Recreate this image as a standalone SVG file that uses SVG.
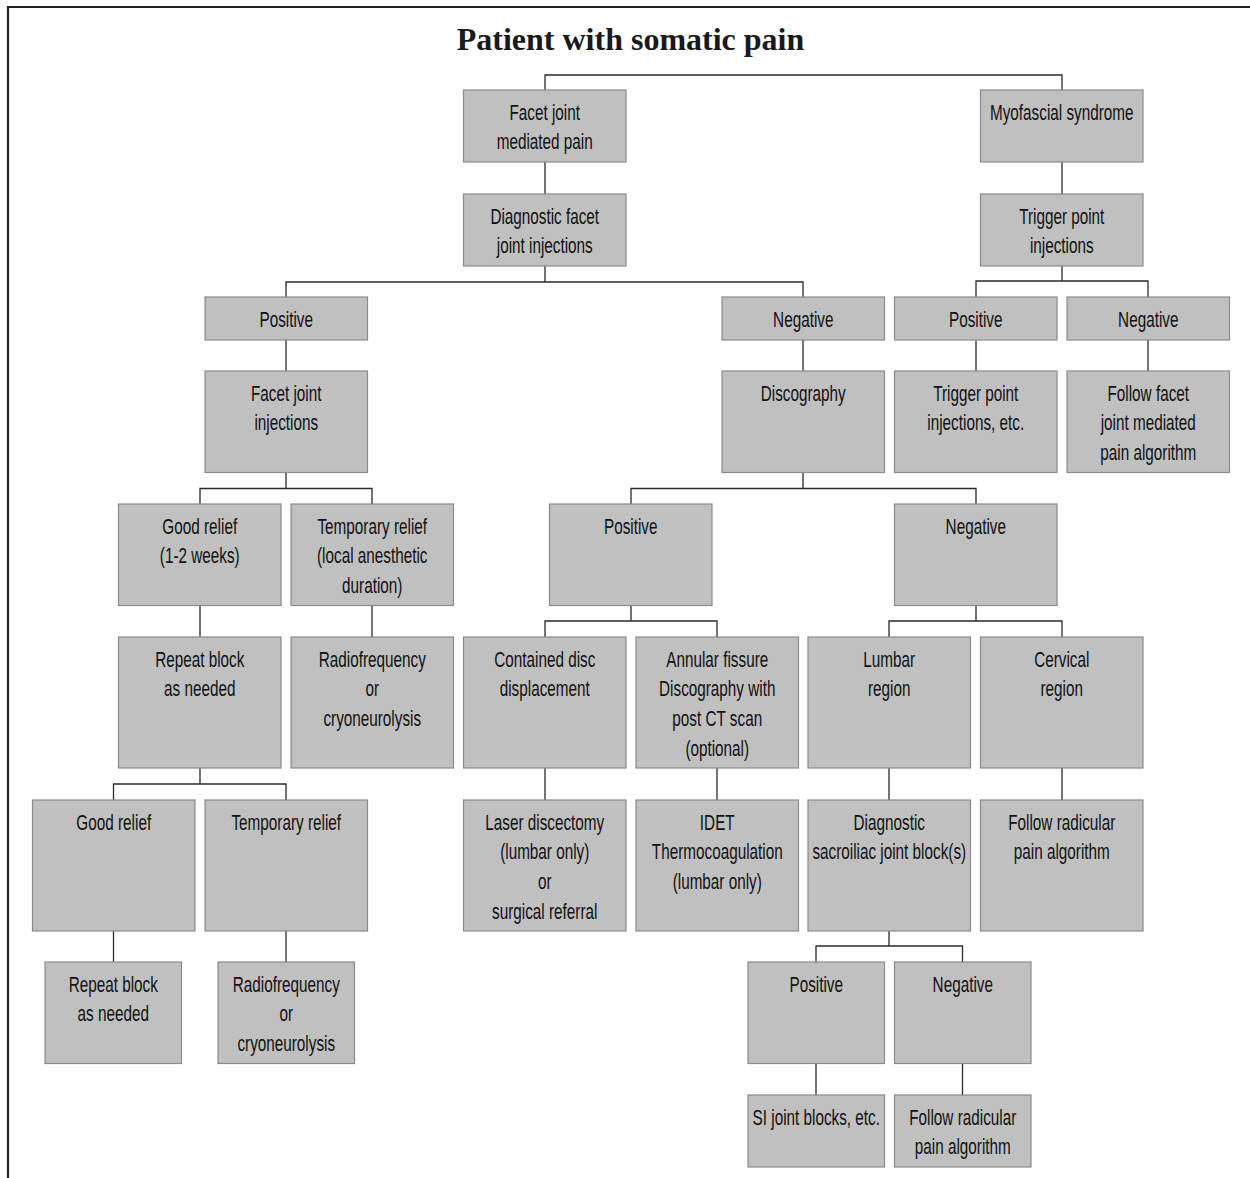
<svg xmlns="http://www.w3.org/2000/svg" width="1250" height="1178" viewBox="0 0 1250 1178">
<style>
.frame{fill:none;stroke:#222;stroke-width:2.2}
.box{fill:#c0c0c0;stroke:#8a8a8a;stroke-width:1.2}
.c{fill:none;stroke:#2a2a2a;stroke-width:1.3}
.t{font-family:"Liberation Sans",Arial,sans-serif;font-size:22.5px;fill:#111;text-anchor:middle}
.title{font-family:"Liberation Serif","Times New Roman",serif;font-size:32px;font-weight:bold;fill:#1a1a1a;text-anchor:middle}
</style>
<rect width="1250" height="1178" fill="#fff"/>
<path class="frame" d="M8,1178 V7 H1250"/>
<text class="title" x="630.5" y="50">Patient with somatic pain</text>

<g id="connectors">
<path class="c" d="M545,90 V75 H1062 V90"/>
<path class="c" d="M545,162 V194 M1062,162 V194"/>
<path class="c" d="M545,266 V282 M286,297 V282 H803 V297"/>
<path class="c" d="M1062,266 V281 M976,297 V281 H1148 V297"/>
<path class="c" d="M286,340 V371 M803,340 V371 M976,340 V371 M1148,340 V371"/>
<path class="c" d="M286,472.5 V488.5 M200,504 V488.5 H372 V504"/>
<path class="c" d="M803,472.5 V488.5 M631,504 V488.5 H976 V504"/>
<path class="c" d="M200,605.5 V637 M372,605.5 V637"/>
<path class="c" d="M631,605.5 V621 M545,637 V621 H717 V637"/>
<path class="c" d="M976,605.5 V621 M889,637 V621 H1062 V637"/>
<path class="c" d="M200,768 V784 M113.5,800 V784 H286 V800"/>
<path class="c" d="M545,768 V800 M717,768 V800 M889,768 V800 M1062,768 V800"/>
<path class="c" d="M113.5,931 V962 M286,931 V962"/>
<path class="c" d="M889,931 V946 M816,962 V946 H962.5 V962"/>
<path class="c" d="M816,1063.5 V1095 M962.5,1063.5 V1095"/>
</g>

<g id="n-facet"><rect class="box" x="463.5" y="90" width="162.5" height="72"/>
<text class="t" transform="translate(544.75 119.5) scale(0.68 1)"><tspan x="0" y="0">Facet joint</tspan><tspan x="0" y="30">mediated pain</tspan></text></g>
<g id="n-myofascial"><rect class="box" x="980.5" y="90" width="162.5" height="72"/>
<text class="t" transform="translate(1061.75 119.5) scale(0.68 1)"><tspan x="0" y="0">Myofascial syndrome</tspan></text></g>

<g id="n-diagfacet"><rect class="box" x="463.5" y="194" width="162.5" height="72"/>
<text class="t" transform="translate(544.75 223.5) scale(0.68 1)"><tspan x="0" y="0">Diagnostic facet</tspan><tspan x="0" y="30">joint injections</tspan></text></g>
<g id="n-trigger"><rect class="box" x="980.5" y="194" width="162.5" height="72"/>
<text class="t" transform="translate(1061.75 223.5) scale(0.68 1)"><tspan x="0" y="0">Trigger point</tspan><tspan x="0" y="30">injections</tspan></text></g>

<g id="n-pos1"><rect class="box" x="205" y="297" width="162.5" height="43"/>
<text class="t" transform="translate(286.25 326.5) scale(0.68 1)"><tspan x="0" y="0">Positive</tspan></text></g>
<g id="n-neg1"><rect class="box" x="722" y="297" width="162.5" height="43"/>
<text class="t" transform="translate(803.25 326.5) scale(0.68 1)"><tspan x="0" y="0">Negative</tspan></text></g>
<g id="n-pos2"><rect class="box" x="894.5" y="297" width="162.5" height="43"/>
<text class="t" transform="translate(975.75 326.5) scale(0.68 1)"><tspan x="0" y="0">Positive</tspan></text></g>
<g id="n-neg2"><rect class="box" x="1067" y="297" width="162.5" height="43"/>
<text class="t" transform="translate(1148.25 326.5) scale(0.68 1)"><tspan x="0" y="0">Negative</tspan></text></g>

<g id="n-facetinj"><rect class="box" x="205" y="371" width="162.5" height="101.5"/>
<text class="t" transform="translate(286.25 400.5) scale(0.68 1)"><tspan x="0" y="0">Facet joint</tspan><tspan x="0" y="30">injections</tspan></text></g>
<g id="n-discography"><rect class="box" x="722" y="371" width="162.5" height="101.5"/>
<text class="t" transform="translate(803.25 400.5) scale(0.68 1)"><tspan x="0" y="0">Discography</tspan></text></g>
<g id="n-triggeretc"><rect class="box" x="894.5" y="371" width="162.5" height="101.5"/>
<text class="t" transform="translate(975.75 400.5) scale(0.68 1)"><tspan x="0" y="0">Trigger point</tspan><tspan x="0" y="30">injections, etc.</tspan></text></g>
<g id="n-followfacet"><rect class="box" x="1067" y="371" width="162.5" height="101.5"/>
<text class="t" transform="translate(1148.25 400.5) scale(0.68 1)"><tspan x="0" y="0">Follow facet</tspan><tspan x="0" y="30">joint mediated</tspan><tspan x="0" y="60">pain algorithm</tspan></text></g>

<g id="n-goodrelief1"><rect class="box" x="118.5" y="504" width="162.5" height="101.5"/>
<text class="t" transform="translate(199.75 533.5) scale(0.68 1)"><tspan x="0" y="0">Good relief</tspan><tspan x="0" y="30">(1-2 weeks)</tspan></text></g>
<g id="n-temprelief1"><rect class="box" x="291" y="504" width="162.5" height="101.5"/>
<text class="t" transform="translate(372.25 533.5) scale(0.68 1)"><tspan x="0" y="0">Temporary relief</tspan><tspan x="0" y="30">(local anesthetic</tspan><tspan x="0" y="60">duration)</tspan></text></g>
<g id="n-pos3"><rect class="box" x="549.5" y="504" width="162.5" height="101.5"/>
<text class="t" transform="translate(630.75 533.5) scale(0.68 1)"><tspan x="0" y="0">Positive</tspan></text></g>
<g id="n-neg3"><rect class="box" x="894.5" y="504" width="162.5" height="101.5"/>
<text class="t" transform="translate(975.75 533.5) scale(0.68 1)"><tspan x="0" y="0">Negative</tspan></text></g>

<g id="n-repeat1"><rect class="box" x="118.5" y="637" width="162.5" height="131"/>
<text class="t" transform="translate(199.75 666.5) scale(0.68 1)"><tspan x="0" y="0">Repeat block</tspan><tspan x="0" y="30">as needed</tspan></text></g>
<g id="n-radio1"><rect class="box" x="291" y="637" width="162.5" height="131"/>
<text class="t" transform="translate(372.25 666.5) scale(0.68 1)"><tspan x="0" y="0">Radiofrequency</tspan><tspan x="0" y="30">or</tspan><tspan x="0" y="60">cryoneurolysis</tspan></text></g>
<g id="n-contained"><rect class="box" x="463.5" y="637" width="162.5" height="131"/>
<text class="t" transform="translate(544.75 666.5) scale(0.68 1)"><tspan x="0" y="0">Contained disc</tspan><tspan x="0" y="30">displacement</tspan></text></g>
<g id="n-annular"><rect class="box" x="636" y="637" width="162.5" height="131"/>
<text class="t" transform="translate(717.25 666.5) scale(0.68 1)"><tspan x="0" y="0">Annular fissure</tspan><tspan x="0" y="30">Discography with</tspan><tspan x="0" y="60">post CT scan</tspan><tspan x="0" y="90">(optional)</tspan></text></g>
<g id="n-lumbar"><rect class="box" x="808" y="637" width="162.5" height="131"/>
<text class="t" transform="translate(889.25 666.5) scale(0.68 1)"><tspan x="0" y="0">Lumbar</tspan><tspan x="0" y="30">region</tspan></text></g>
<g id="n-cervical"><rect class="box" x="980.5" y="637" width="162.5" height="131"/>
<text class="t" transform="translate(1061.75 666.5) scale(0.68 1)"><tspan x="0" y="0">Cervical</tspan><tspan x="0" y="30">region</tspan></text></g>

<g id="n-goodrelief2"><rect class="box" x="32.5" y="800" width="162.5" height="131"/>
<text class="t" transform="translate(113.75 829.5) scale(0.68 1)"><tspan x="0" y="0">Good relief</tspan></text></g>
<g id="n-temprelief2"><rect class="box" x="205" y="800" width="162.5" height="131"/>
<text class="t" transform="translate(286.25 829.5) scale(0.68 1)"><tspan x="0" y="0">Temporary relief</tspan></text></g>
<g id="n-laser"><rect class="box" x="463.5" y="800" width="162.5" height="131"/>
<text class="t" transform="translate(544.75 829.5) scale(0.68 1)"><tspan x="0" y="0">Laser discectomy</tspan><tspan x="0" y="30">(lumbar only)</tspan><tspan x="0" y="60">or</tspan><tspan x="0" y="90">surgical referral</tspan></text></g>
<g id="n-idet"><rect class="box" x="636" y="800" width="162.5" height="131"/>
<text class="t" transform="translate(717.25 829.5) scale(0.68 1)"><tspan x="0" y="0">IDET</tspan><tspan x="0" y="30">Thermocoagulation</tspan><tspan x="0" y="60">(lumbar only)</tspan></text></g>
<g id="n-diagsi"><rect class="box" x="808" y="800" width="162.5" height="131"/>
<text class="t" transform="translate(889.25 829.5) scale(0.68 1)"><tspan x="0" y="0">Diagnostic</tspan><tspan x="0" y="30">sacroiliac joint block(s)</tspan></text></g>
<g id="n-followrad1"><rect class="box" x="980.5" y="800" width="162.5" height="131"/>
<text class="t" transform="translate(1061.75 829.5) scale(0.68 1)"><tspan x="0" y="0">Follow radicular</tspan><tspan x="0" y="30">pain algorithm</tspan></text></g>

<g id="n-repeat2"><rect class="box" x="45" y="962" width="136.5" height="101.5"/>
<text class="t" transform="translate(113.25 991.5) scale(0.68 1)"><tspan x="0" y="0">Repeat block</tspan><tspan x="0" y="30">as needed</tspan></text></g>
<g id="n-radio2"><rect class="box" x="218" y="962" width="136.5" height="101.5"/>
<text class="t" transform="translate(286.25 991.5) scale(0.68 1)"><tspan x="0" y="0">Radiofrequency</tspan><tspan x="0" y="30">or</tspan><tspan x="0" y="60">cryoneurolysis</tspan></text></g>
<g id="n-pos4"><rect class="box" x="748" y="962" width="136.5" height="101.5"/>
<text class="t" transform="translate(816.25 991.5) scale(0.68 1)"><tspan x="0" y="0">Positive</tspan></text></g>
<g id="n-neg4"><rect class="box" x="894.5" y="962" width="136.5" height="101.5"/>
<text class="t" transform="translate(962.75 991.5) scale(0.68 1)"><tspan x="0" y="0">Negative</tspan></text></g>

<g id="n-siblocks"><rect class="box" x="748" y="1095" width="136.5" height="72"/>
<text class="t" transform="translate(816.25 1124.5) scale(0.68 1)"><tspan x="0" y="0">SI joint blocks, etc.</tspan></text></g>
<g id="n-followrad2"><rect class="box" x="894.5" y="1095" width="136.5" height="72"/>
<text class="t" transform="translate(962.75 1124.5) scale(0.68 1)"><tspan x="0" y="0">Follow radicular</tspan><tspan x="0" y="30">pain algorithm</tspan></text></g>
</svg>
